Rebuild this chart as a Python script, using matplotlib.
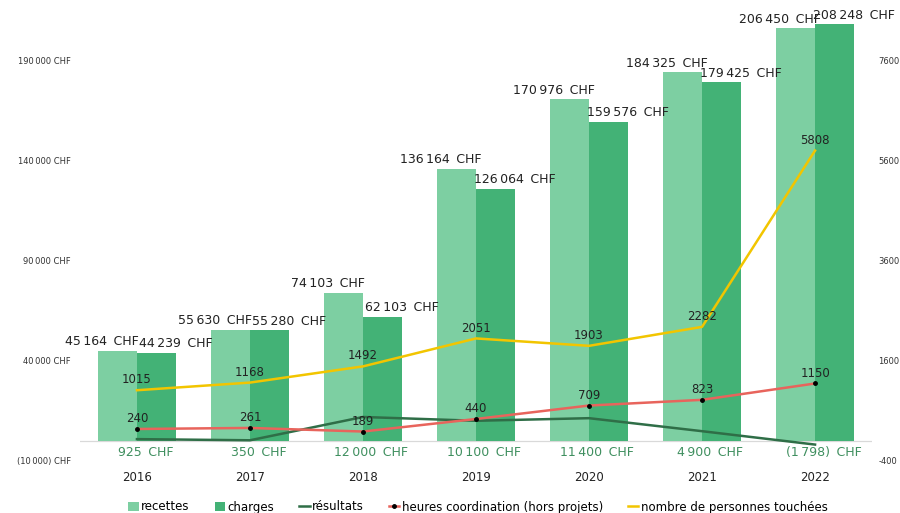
import numpy as np
import matplotlib
matplotlib.use("Agg")
import matplotlib.pyplot as plt
from matplotlib.ticker import FixedLocator

# Données
annees = ["2016", "2017", "2018", "2019", "2020", "2021", "2022"]
recettes = [45164, 55630, 74103, 136164, 170976, 184325, 206450]
charges = [44239, 55280, 62103, 126064, 159576, 179425, 208248]
resultats = [925, 350, 12000, 10100, 11400, 4900, -1798]
heures = [240, 261, 189, 440, 709, 823, 1150]
personnes = [1015, 1168, 1492, 2051, 1903, 2282, 5808]

c_rec = "#7dcfa2"
c_cha = "#43b276"
c_res = "#2f6e47"
c_heu = "#e8645c"
c_per = "#f2c500"
c_txt = "#222222"
c_res_txt = "#3f8f5f"


def chf(v, sep=" \u2009"):
    s = f"{abs(v):,}".replace(",", "\u2009")
    if v < 0:
        return f"({s}){sep}CHF"
    return f"{s}{sep}CHF"


plt.rcParams['font.family'] = ['DejaVu Sans']

fig = plt.figure(figsize=(9, 5.13), dpi=100)
ax = fig.add_axes([0.0894, 0.1014, 0.879, 0.8577])
ax2 = ax.twinx()

x = np.arange(len(annees))
w = 0.345

# Barres
b1 = ax.bar(x - w / 2, recettes, w, color=c_rec, label="recettes", zorder=2)
b2 = ax.bar(x + w / 2, charges, w, color=c_cha, label="charges", zorder=2)
ax.axhline(0, color="#d9d9d9", lw=0.9, zorder=1)

# Ligne résultats (axe gauche)
l1, = ax.plot(x, resultats, color=c_res, lw=1.8, label="résultats", zorder=3)

# Lignes axe droit
l2, = ax2.plot(x, heures, color=c_heu, lw=1.8, marker="o", markersize=2.5,
               markerfacecolor="black", markeredgecolor="black",
               label="heures coordination (hors projets)")
l3, = ax2.plot(x, personnes, color=c_per, lw=1.8,
               label="nombre de personnes touchées")

# Étiquettes des barres et des lignes
for i in range(len(annees)):
    ax.annotate(chf(recettes[i]), (x[i] - w / 2, recettes[i]), xytext=(-11, 6.5),
                textcoords="offset points", ha="center", va="center",
                fontsize=9, color=c_txt)
    ax.annotate(chf(charges[i]), (x[i] + w / 2, charges[i]), xytext=(14, 6.5),
                textcoords="offset points", ha="center", va="center",
                fontsize=9, color=c_txt)
    ax.annotate(chf(resultats[i]), (x[i], 0), xytext=(6, -8),
                textcoords="offset points", ha="center", va="center",
                fontsize=9, color=c_res_txt)
    ax2.annotate(str(heures[i]), (x[i], heures[i]), xytext=(0, 7.5),
                 textcoords="offset points", ha="center", va="center",
                 fontsize=8.5, color=c_txt)
    ax2.annotate(str(personnes[i]), (x[i], personnes[i]), xytext=(0, 7.5),
                 textcoords="offset points", ha="center", va="center",
                 fontsize=8.5, color=c_txt)

# Axes
ax.set_xlim(-0.5, len(annees) - 0.5)
ax.set_ylim(-10000, 210000)
ax2.set_ylim(-400, 8400)

gauche = [-10000, 40000, 90000, 140000, 190000]
ax.yaxis.set_major_locator(FixedLocator(gauche))
ax.set_yticklabels([chf(v, sep=" ") for v in gauche])
droite = [-400, 1600, 3600, 5600, 7600]
ax2.yaxis.set_major_locator(FixedLocator(droite))
ax2.set_yticklabels([str(v) for v in droite])

ax.set_xticks(x)
ax.set_xticklabels(annees)
ax.tick_params(axis="x", length=0, pad=7, labelsize=8.5, labelcolor=c_txt)
ax.tick_params(axis="y", length=0, pad=7, labelsize=6, labelcolor="#333333")
ax2.tick_params(axis="y", length=0, pad=5, labelsize=6, labelcolor="#333333")

for a in (ax, ax2):
    for s in a.spines.values():
        s.set_visible(False)

fig.legend([b1, b2, l1, l2, l3],
           ["recettes", "charges", "résultats",
            "heures coordination (hors projets)", "nombre de personnes touchées"],
           loc="center", bbox_to_anchor=(478 / 900, 1 - 507 / 513), ncol=5,
           frameon=False, fontsize=8.5, handlelength=0.9, handletextpad=0.2,
           columnspacing=2.1)

fig.savefig("out.png", dpi=100)
